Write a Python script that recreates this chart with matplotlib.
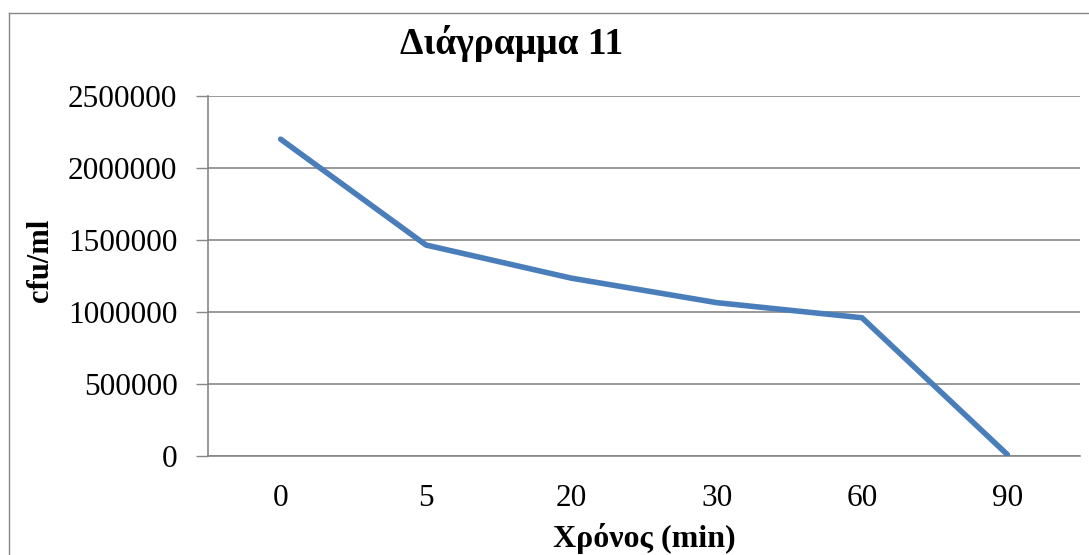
import matplotlib.pyplot as plt
from matplotlib.lines import Line2D

# data
times = ["0", "5", "20", "30", "60", "90"]
cfu = [2200000, 1465000, 1235000, 1065000, 960000, 10000]
yticks = [0, 500000, 1000000, 1500000, 2000000, 2500000]

plt.rcParams['font.family'] = ['Liberation Serif', 'DejaVu Serif']

fig = plt.figure(figsize=(10.89, 5.55), dpi=100)
ax = fig.add_axes([208 / 1089, 1 - 456 / 555, (1080 - 208) / 1089, 360 / 555])

x = list(range(len(times)))
ax.plot(x, cfu, color='#4a7ebb', lw=4, solid_capstyle='round', solid_joinstyle='round', zorder=3)

ax.set_xlim(-0.5, len(times) - 0.5)
ax.set_ylim(0, 2500000)
ax.set_xticks(x)
ax.set_xticklabels(times)
ax.set_yticks(yticks)
ax.set_yticklabels([str(v) for v in yticks])
ax.tick_params(axis='both', labelsize=22.5, colors='black')
ax.tick_params(axis='y', length=9, width=1, color='#868686', pad=13)
ax.tick_params(axis='x', length=0, pad=20)

ax.grid(axis='y', color='#868686', lw=1.2)
for s in ['top', 'right']:
    ax.spines[s].set_visible(False)
ax.spines['left'].set_color('#868686')
ax.spines['bottom'].set_color('#868686')
ax.spines['left'].set_linewidth(1.2)
ax.spines['bottom'].set_linewidth(1.2)

ax.set_ylabel('cfu/ml', fontsize=22, fontweight='bold')
ax.yaxis.set_label_coords(-0.176, 0.544)
ax.set_xlabel('Χρόνος (min)', fontsize=23, fontweight='bold', labelpad=7)
fig.text(512 / 1089, 1 - 43 / 555, 'Διάγραμμα 11', fontsize=27, fontweight='bold',
         ha='center', va='center')

# chart border (cut at right and bottom)
fig.add_artist(Line2D([9 / 1089, 1], [1 - 13 / 555, 1 - 13 / 555], color='#868686', lw=1))
fig.add_artist(Line2D([9 / 1089, 9 / 1089], [0, 1 - 13 / 555], color='#868686', lw=1))

fig.savefig('out.png', dpi=100)
